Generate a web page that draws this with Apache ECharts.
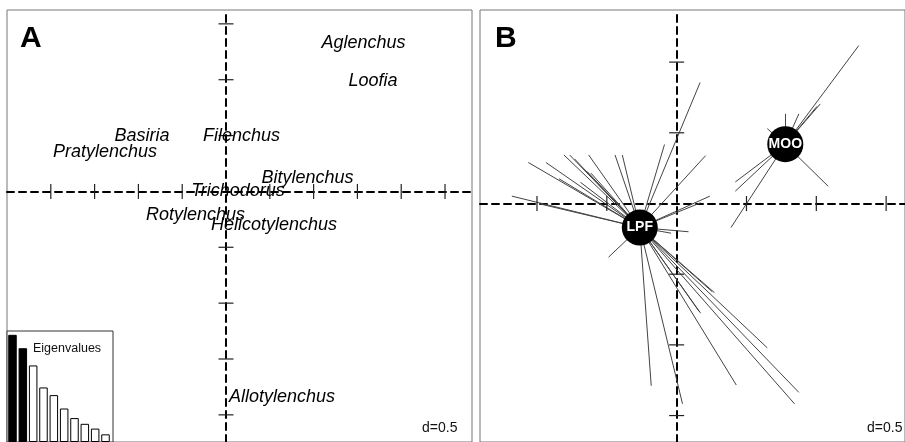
<!DOCTYPE html>
<html>
<head>
<meta charset="utf-8">
<script src="https://cdn.jsdelivr.net/npm/echarts@6/dist/echarts.min.js"></script>
<style>html,body{margin:0;padding:0;background:#fff;}#chart{width:905px;height:442px;}</style>
</head>
<body>
<div id="chart"></div>
<script>
// ---- Panel A: species scores ----
const speciesNames = ['Aglenchus','Loofia','Basiria','Pratylenchus','Filenchus','Bitylenchus','Trichodorus','Rotylenchus','Helicotylenchus','Allotylenchus'];
const speciesX = [1.570, 1.678, -0.959, -1.381, 0.177, 0.930, 0.137, -0.348, 0.548, 0.639];
const speciesY = [1.332, 0.987, 0.500, 0.350, 0.500, 0.119, 0.004, -0.208, -0.301, -1.842];
const xTicksA = [-2, -1.5, -1, -0.5, 0.5, 1, 1.5, 2, 2.5];
const yTicksA = [1.5, 1, 0.5, -0.5, -1, -1.5, -2];
const eigenValues = [1.12, 0.98, 0.80, 0.57, 0.49, 0.35, 0.25, 0.19, 0.14, 0.08];
const eigenKept = 2;

// ---- Panel B: site scores by class ----
const groupNames = ['LPF', 'MOO'];
const groupCenters = [[-0.264, -0.170], [0.778, 0.419]];
const lpfPoints = [
  [-1.180, 0.052], [-1.062, 0.290], [-0.936, 0.290], [-0.807, 0.343], [-0.766, 0.343],
  [-0.731, 0.315], [-0.630, 0.343], [-0.642, 0.227], [-0.614, 0.215], [-0.689, 0.150],
  [-0.842, 0.175], [-0.559, 0.133], [-0.441, 0.343], [-0.389, 0.343], [-0.087, 0.417],
  [0.168, 0.856], [0.207, 0.338], [0.238, 0.052], [0.172, 0.005], [0.085, -0.200],
  [-0.040, -0.210], [-0.488, -0.380], [-0.984, -0.002], [-0.182, -1.289], [0.042, -1.417],
  [0.172, -0.776], [0.161, -0.764], [0.271, -0.631], [0.255, -0.624], [0.427, -1.284],
  [0.649, -1.021], [0.875, -1.336], [0.844, -1.417]
];
const mooPoints = [
  [1.304, 1.117], [1.028, 0.704], [1.005, 0.687], [0.875, 0.634], [0.778, 0.634],
  [0.649, 0.529], [1.085, 0.122], [0.420, 0.152], [0.420, 0.087], [0.389, -0.170]
];
const xTicksB = [-1, -0.5, 0.5, 1, 1.5];
const yTicksB = [1, 0.5, -0.5, -1, -1.5];

const SANS = "'Liberation Sans',Arial,sans-serif";

const dashed = {show: true, onZero: true, lineStyle: {color: '#000', width: 2, type: [7, 5]}};
function valAxis(gridIndex, min, max, withLine) {
  return {
    type: 'value', gridIndex, min, max,
    axisLine: withLine ? dashed : {show: false},
    axisTick: {show: false}, axisLabel: {show: false}, splitLine: {show: false}
  };
}
function tickSeries(xi, ticks, horizontalAxis) {
  return {
    type: 'scatter', xAxisIndex: xi, yAxisIndex: xi, silent: true, z: 3,
    symbol: 'rect', symbolSize: horizontalAxis ? [1.2, 15] : [15, 1.2],
    itemStyle: {color: '#222', opacity: 1},
    data: ticks.map(v => horizontalAxis ? [v, 0] : [0, v])
  };
}

const chart = echarts.init(document.getElementById('chart'), null, {renderer: 'canvas'});
const option = {
  animation: false,
  backgroundColor: '#fff',
  title: [
    {text: 'A', left: 20, top: 24, padding: 0, textStyle: {fontFamily: SANS, fontWeight: 'bold', fontSize: 30, color: '#000'}},
    {text: 'B', left: 495, top: 24, padding: 0, textStyle: {fontFamily: SANS, fontWeight: 'bold', fontSize: 30, color: '#000'}},
    {text: 'Eigenvalues', left: 33, top: 342, padding: 0, z: 10, textStyle: {fontFamily: SANS, fontWeight: 'normal', fontSize: 12.5, color: '#111'}},
    {text: 'd=0.5', left: 422, top: 421, padding: 0, textStyle: {fontFamily: SANS, fontWeight: 'normal', fontSize: 14, color: '#111'}},
    {text: 'd=0.5', left: 867, top: 421, padding: 0, textStyle: {fontFamily: SANS, fontWeight: 'normal', fontSize: 14, color: '#111'}}
  ],
  grid: [
    {left: 7, top: 10, width: 465, bottom: -5, show: true, borderColor: '#777', borderWidth: 1, backgroundColor: '#fff'},
    {left: 480, top: 10, right: -5, bottom: -5, show: true, borderColor: '#777', borderWidth: 1, backgroundColor: '#fff'},
    {left: 7, top: 331, width: 106, bottom: -5, show: true, borderColor: '#333', borderWidth: 1, backgroundColor: '#fff', z: 4}
  ],
  xAxis: [
    valAxis(0, -2.5, 2.808, true),
    valAxis(1, -1.408, 1.635, true),
    valAxis(2, 0.468, 10.726, false)
  ],
  yAxis: [
    valAxis(0, -2.243, 1.624, true),
    valAxis(1, -1.687, 1.3685, true),
    valAxis(2, 0, 1.16, false)
  ],
  series: [
    tickSeries(0, xTicksA, true),
    tickSeries(0, yTicksA, false),
    tickSeries(1, xTicksB, true),
    tickSeries(1, yTicksB, false),
    {
      type: 'scatter', xAxisIndex: 0, yAxisIndex: 0, silent: true, z: 4,
      symbolSize: 1, itemStyle: {color: 'rgba(0,0,0,0)', opacity: 1},
      label: {show: true, position: 'inside', formatter: '{b}', fontFamily: SANS, fontStyle: 'italic', fontSize: 18, color: '#000', opacity: 1},
      data: speciesNames.map((n, i) => ({name: n, value: [speciesX[i], speciesY[i]]}))
    },
    {
      type: 'bar', xAxisIndex: 2, yAxisIndex: 2, silent: true, barWidth: 8.5, z: 5,
      data: eigenValues.map((v, i) => ({
        value: [i + 1, v],
        itemStyle: i < eigenKept ? {color: '#000', borderColor: '#000', borderWidth: 1} : {color: '#fff', borderColor: '#000', borderWidth: 1}
      }))
    },
    {
      type: 'lines', coordinateSystem: 'cartesian2d', xAxisIndex: 1, yAxisIndex: 1, silent: true, z: 3,
      lineStyle: {color: '#444', width: 1, opacity: 1, curveness: 0},
      data: lpfPoints.map(p => ({coords: [groupCenters[0], p]}))
        .concat(mooPoints.map(p => ({coords: [groupCenters[1], p]})))
    },
    {
      type: 'scatter', xAxisIndex: 1, yAxisIndex: 1, silent: true, z: 6,
      symbolSize: 36, itemStyle: {color: '#000', opacity: 1},
      label: {show: true, position: 'inside', formatter: '{b}', fontFamily: SANS, fontWeight: 'bold', fontSize: 14, color: '#fff'},
      data: groupNames.map((n, i) => ({name: n, value: groupCenters[i]}))
    }
  ]
};
chart.setOption(option);
</script>
</body>
</html>
